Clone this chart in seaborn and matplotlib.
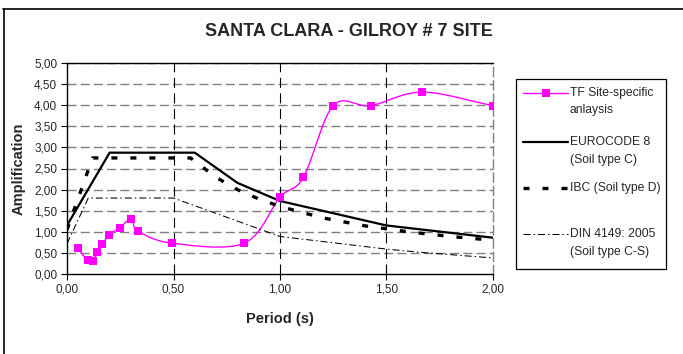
import numpy as np
import pandas as pd
import matplotlib
matplotlib.use("Agg")
import matplotlib.pyplot as plt
from matplotlib.lines import Line2D
from matplotlib.patches import Rectangle
import seaborn as sns

# Site-specific transfer function (period in s, amplification)
tf_period = [0.05, 0.097, 0.12, 0.14, 0.166, 0.196, 0.249, 0.302, 0.333, 0.494, 0.832,
             1.00, 1.11, 1.25, 1.425, 1.667, 2.00]
tf_amp = [0.61, 0.32, 0.30, 0.51, 0.70, 0.92, 1.10, 1.31, 1.02, 0.73, 0.73,
          1.82, 2.29, 3.99, 3.99, 4.31, 3.99]

# EUROCODE 8, soil type C
ec8_period = [0.0, 0.2, 0.6, 0.8, 1.0, 1.5, 2.0]
ec8_amp = [1.15, 2.875, 2.875, 2.16, 1.73, 1.15, 0.86]

# IBC, soil type D
ibc_period = [0.0, 0.12, 0.58, 0.7, 0.8, 0.9, 1.0, 1.2, 1.4, 1.6, 1.8, 2.0]
ibc_amp = [1.05, 2.75, 2.75, 2.29, 2.00, 1.78, 1.60, 1.33, 1.14, 1.00, 0.89, 0.80]

# DIN 4149: 2005, soil type C-S
din_period = [0.0, 0.1, 0.5, 1.0, 1.5, 1.67, 2.0]
din_amp = [0.72, 1.80, 1.80, 0.89, 0.59, 0.51, 0.38]

x_ticks = [0.0, 0.5, 1.0, 1.5, 2.0]
y_ticks = [0.0, 0.5, 1.0, 1.5, 2.0, 2.5, 3.0, 3.5, 4.0, 4.5, 5.0]

legend_labels = [("TF Site-specific", "anlaysis"),
                 ("EUROCODE 8", "(Soil type C)"),
                 ("IBC (Soil type D)",),
                 ("DIN 4149: 2005", "(Soil type C-S)")]


def smooth_path(x, y, n=24):
    """Catmull-Rom curve through the given points (smoothed line rendering)."""
    p = np.column_stack([x, y]).astype(float)
    p = np.vstack([2 * p[0] - p[1], p, 2 * p[-1] - p[-2]])
    t = np.linspace(0, 1, n)[:, None]
    segs = []
    for i in range(1, len(p) - 2):
        p0, p1, p2, p3 = p[i - 1], p[i], p[i + 1], p[i + 2]
        m1 = (p2 - p0) / 2
        m2 = (p3 - p1) / 2
        h00 = 2 * t**3 - 3 * t**2 + 1
        h10 = t**3 - 2 * t**2 + t
        h01 = -2 * t**3 + 3 * t**2
        h11 = t**3 - t**2
        seg = h00 * p1 + h10 * m1 + h01 * p2 + h11 * m2
        segs.append(seg if i == 1 else seg[1:])
    c = np.vstack(segs)
    return c[:, 0], c[:, 1]


sns.set_theme(style="white")
plt.rcParams["font.family"] = ["Liberation Sans", "DejaVu Sans"]

W, H = 683, 354
fig = plt.figure(figsize=(W / 100, H / 100), dpi=100)
ax = fig.add_axes([67 / W, 1 - 274 / H, 426 / W, 211 / H])
ax.set_facecolor("white")

# grid lines
for yv in y_ticks[1:]:
    ax.axhline(yv, color="#808080", lw=1.0, ls=(0, (6.5, 3)), zorder=1)
for xv in x_ticks[1:4]:
    ax.axvline(xv, color="black", lw=0.8, ls=(0, (9, 5)), zorder=1)

magenta = "#FF00FF"
tf_style = dict(color=magenta, lw=1.0)
ec8_style = dict(color="black", lw=1.6)
ibc_style = dict(color="black", lw=2.4, dashes=(1.8, 3.9))
din_style = dict(color="black", lw=0.75, dashes=(6.7, 2.9, 1.4, 2.9))

sx, sy = smooth_path(tf_period, tf_amp)
sns.lineplot(x=sx, y=sy, ax=ax, sort=False, estimator=None, zorder=3, **tf_style)
sns.scatterplot(x=tf_period, y=tf_amp, ax=ax, color=magenta, marker="s", s=30,
                linewidth=0, zorder=4)

sns.lineplot(x=ec8_period, y=ec8_amp, ax=ax, estimator=None, sort=False, zorder=3,
             **ec8_style)
ibc_line = sns.lineplot(x=ibc_period, y=ibc_amp, ax=ax, color="black", lw=2.4,
                        estimator=None, sort=False, zorder=3).lines[-1]
ibc_line.set_dashes(ibc_style["dashes"])
din_line = sns.lineplot(x=din_period, y=din_amp, ax=ax, color="black", lw=0.75,
                        estimator=None, sort=False, zorder=3).lines[-1]
din_line.set_dashes(din_style["dashes"])

ax.set_xlim(0, 2.0)
ax.set_ylim(0, 5.0)
ax.set_xticks(x_ticks)
ax.set_yticks(y_ticks)
ax.set_xticklabels([f"{v:.2f}".replace(".", ",") for v in x_ticks], fontsize=8.5)
ax.set_yticklabels([f"{v:.2f}".replace(".", ",") for v in y_ticks], fontsize=8.5)
ax.tick_params(axis="both", direction="out", length=4, width=0.8, color="black",
               bottom=True, left=True, pad=3)

for side in ["left", "bottom", "top"]:
    ax.spines[side].set_color("black")
    ax.spines[side].set_linewidth(1.0)
ax.spines["right"].set_color("#808080")
ax.spines["right"].set_linewidth(1.0)
ax.spines["right"].set_linestyle((0, (6.5, 3)))

ax.set_xlabel("Period (s)", fontsize=10.5, fontweight="bold", labelpad=12)
ax.set_ylabel("Amplification", fontsize=10.5, fontweight="bold", labelpad=6)

fig.text(349 / W, 1 - 32 / H, "SANTA CLARA - GILROY # 7 SITE", fontsize=13,
         fontweight="bold", ha="center", va="center")

# legend box, each handle level with the first line of its label
fig.add_artist(Rectangle((516 / W, 1 - 269 / H), 150 / W, 190 / H, fill=False,
                         edgecolor="black", lw=0.9, transform=fig.transFigure))
entry_y = [93, 142, 188, 234]
styles = [tf_style, ec8_style, ibc_style, din_style]
for (lines, ypx, st) in zip(legend_labels, entry_y, styles):
    yf = 1 - ypx / H
    fig.add_artist(Line2D([523 / W, 568 / W], [yf, yf], transform=fig.transFigure,
                          **st))
    for k, txt in enumerate(lines):
        fig.text(570 / W, 1 - (ypx + 17.5 * k) / H, txt, fontsize=8.7,
                 ha="left", va="center")
fig.add_artist(Line2D([545.5 / W], [1 - 93 / H], marker="s", markersize=5.5,
                      color=magenta, markeredgewidth=0, transform=fig.transFigure))

# outer chart frame
fig.add_artist(Line2D([3 / W, 1.0], [1 - 8.5 / H] * 2, color="black", lw=1.2,
                      transform=fig.transFigure))
fig.add_artist(Line2D([3.5 / W] * 2, [0, 1 - 8.5 / H], color="black", lw=1.2,
                      transform=fig.transFigure))

fig.savefig("out.png", dpi=100, facecolor="white")
